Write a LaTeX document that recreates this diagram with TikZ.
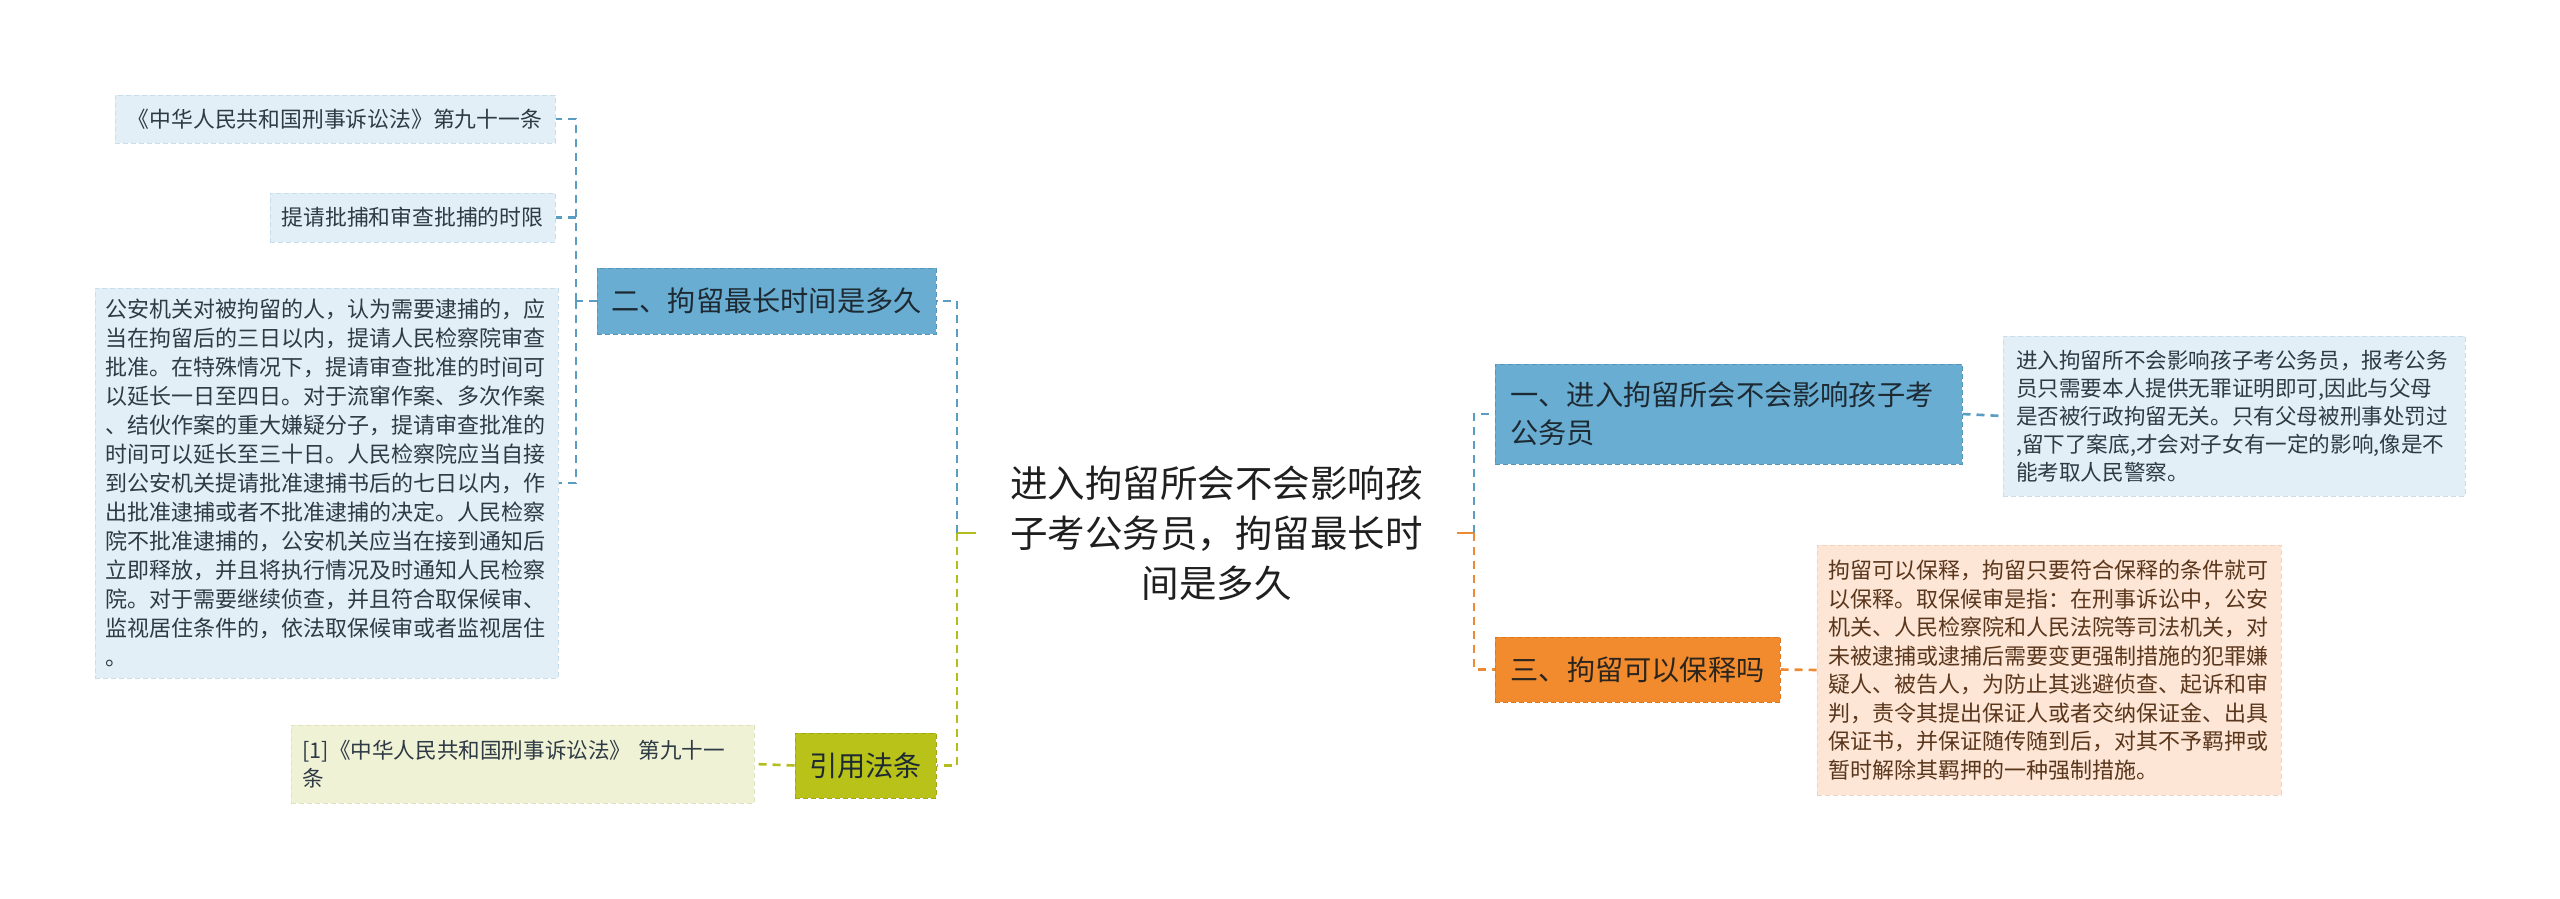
\documentclass[tikz,border=0pt]{standalone}
\usepackage{fontspec}
\setmainfont{Noto Sans CJK SC}
\usetikzlibrary{backgrounds}
\definecolor{mblue}{HTML}{69AED2}
\definecolor{mblueb}{HTML}{5595BA}
\definecolor{lblue}{HTML}{E3EFF7}
\definecolor{lblueb}{HTML}{C9DDEA}
\definecolor{cfill}{HTML}{EFEEE6}
\definecolor{olive}{HTML}{B8C218}
\definecolor{oliveb}{HTML}{A0AA10}
\definecolor{lyel}{HTML}{F0F2D6}
\definecolor{lyelb}{HTML}{E0E4BE}
\definecolor{orng}{HTML}{F28B2E}
\definecolor{orngb}{HTML}{DC7720}
\definecolor{peach}{HTML}{FDE6D5}
\definecolor{peachb}{HTML}{F3D2BC}
\definecolor{cblue}{HTML}{5A9DC2}
\definecolor{cgreen}{HTML}{B3BE1C}
\definecolor{corng}{HTML}{EE8A32}
\definecolor{ltext}{HTML}{2E3A44}
\definecolor{btext}{HTML}{5A361C}
\definecolor{dtext}{HTML}{1E2A33}
\begin{document}
\begin{tikzpicture}[x=1pt,y=-1pt,
  boxbase/.style={rectangle, inner sep=0pt, line width=1pt, dash pattern=on 5pt off 3pt},
  leafblue/.style={boxbase, fill=lblue, draw=lblueb, text=ltext, font=\fontsize{21.8}{29}\selectfont, align=left},
  leafyel/.style={boxbase, fill=lyel, draw=lyelb, text=ltext, font=\fontsize{21.6}{28}\selectfont, align=left},
  leafpeach/.style={boxbase, fill=peach, draw=peachb, text=btext, font=\fontsize{22}{28.5}\selectfont, align=left},
  mainblue/.style={boxbase, fill=mblue, draw=mblueb, text=dtext, font=\fontsize{28.2}{38}\selectfont},
  mainolive/.style={boxbase, fill=olive, draw=oliveb, text=dtext, font=\fontsize{28.2}{38}\selectfont},
  mainorng/.style={boxbase, fill=orng, draw=orngb, text=dtext!80!orng!60!black, font=\fontsize{28.2}{38}\selectfont},
  conbase/.style={line width=2.6pt, dash pattern=on 8pt off 6pt},
  conblue/.style={conbase, draw=cblue},
  congreen/.style={conbase, draw=cgreen},
  conorng/.style={conbase, draw=corng},
]
\useasboundingbox (0,0) rectangle (2560,899);
\fill[white] (0,0) rectangle (2560,899);

% center
\node[font=\fontsize{37.5}{50}\selectfont, text=black!88, align=center, minimum width=481, minimum height=190, inner sep=0pt] (c) at (1216.5,533)
  {进入拘留所会不会影响孩\\子考公务员，拘留最长时\\间是多久};
\begin{pgfonlayer}{background}
\fill[cfill] ([xshift=16pt]c.north west) -- ([xshift=-17pt]c.north east) -- (c.east)
  -- ([xshift=-17pt]c.south east) -- ([xshift=16pt]c.south west) -- (c.west) -- cycle;
\end{pgfonlayer}

% left branch
\node[mainblue, minimum width=339, minimum height=66] (n2) at (766.5,301) {二、拘留最长时间是多久};
\node[leafblue, minimum width=440, minimum height=48] (L1) at (335,119) {《中华人民共和国刑事诉讼法》第九十一条};
\node[leafblue, minimum width=285, minimum height=49] (L2) at (412.5,217.5) {提请批捕和审查批捕的时限};
\node[leafblue, font=\fontsize{22}{29}\selectfont, text width=442, minimum width=463, minimum height=390] (L3) at (326.5,483)
  {公安机关对被拘留的人，认为需要逮捕的，应\\
   当在拘留后的三日以内，提请人民检察院审查\\
   批准。在特殊情况下，提请审查批准的时间可\\
   以延长一日至四日。对于流窜作案、多次作案\\
   、结伙作案的重大嫌疑分子，提请审查批准的\\
   时间可以延长至三十日。人民检察院应当自接\\
   到公安机关提请批准逮捕书后的七日以内，作\\
   出批准逮捕或者不批准逮捕的决定。人民检察\\
   院不批准逮捕的，公安机关应当在接到通知后\\
   立即释放，并且将执行情况及时通知人民检察\\
   院。对于需要继续侦查，并且符合取保候审、\\
   监视居住条件的，依法取保候审或者监视居住\\
   。};

\node[mainolive, minimum width=141, minimum height=65] (n4) at (865.5,765.5) {引用法条};
\node[leafyel, text width=440, minimum width=463, minimum height=78] (L4) at (522.5,764)
  {[1]《中华人民共和国刑事诉讼法》 第九十一\\条};

% right branch
\node[mainblue, align=left, text width=436, minimum width=467, minimum height=100] (n1) at (1728.5,414)
  {一、进入拘留所会不会影响孩子考\\公务员};
\node[leafblue, font=\fontsize{21.6}{28}\selectfont, text width=436, minimum width=462, minimum height=160] (R1) at (2234,416)
  {进入拘留所不会影响孩子考公务员，报考公务\\
   员只需要本人提供无罪证明即可,因此与父母\\
   是否被行政拘留无关。只有父母被刑事处罚过\\
   ,留下了案底,才会对子女有一定的影响,像是不\\
   能考取人民警察。};
\node[mainorng, minimum width=285, minimum height=65] (n3) at (1637.5,669.5) {三、拘留可以保释吗};
\node[leafpeach, text width=442, minimum width=464, minimum height=250] (R2) at (2049,670)
  {拘留可以保释，拘留只要符合保释的条件就可\\
   以保释。取保候审是指：在刑事诉讼中，公安\\
   机关、人民检察院和人民法院等司法机关，对\\
   未被逮捕或逮捕后需要变更强制措施的犯罪嫌\\
   疑人、被告人，为防止其逃避侦查、起诉和审\\
   判，责令其提出保证人或者交纳保证金、出具\\
   保证书，并保证随传随到后，对其不予羁押或\\
   暂时解除其羁押的一种强制措施。};

% bus coordinates
\coordinate (busC) at (957,533);
\coordinate (busR) at (1474,533);
\coordinate (busL) at (576,301);

% connectors
\draw[line width=2.6pt, cgreen] (c.west) -- (busC);
\draw[conblue] (busC) |- (n2.east);
\draw[congreen] (busC) |- (n4.east);
\draw[conblue] (n2.west) -- (busL);
\draw[conblue] (busL) |- (L1.east);
\draw[conblue] (busL) |- (L2.east);
\draw[conblue] (busL) |- (L3.east);
\draw[congreen] (n4.west) -- (L4.east);

\draw[line width=2.6pt, corng] (c.east) -- (busR);
\draw[conblue] (busR) |- (n1.west);
\draw[conorng] (busR) |- (n3.west);
\draw[conblue] (n1.east) -- (R1.west);
\draw[conorng] (n3.east) -- (R2.west);
\end{tikzpicture}
\end{document}
